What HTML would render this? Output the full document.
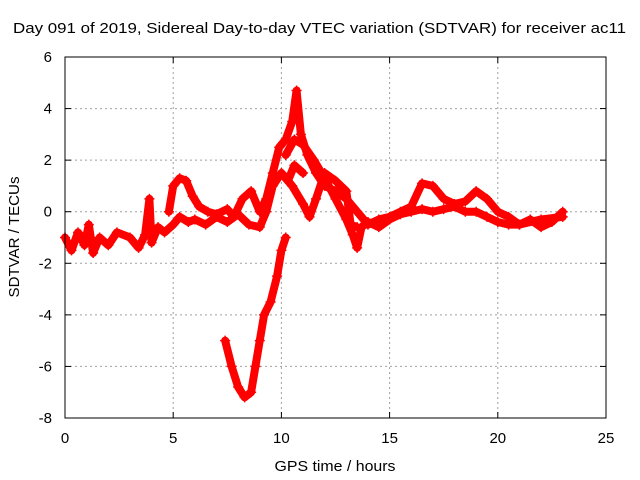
<!DOCTYPE html>
<html><head><meta charset="utf-8"><style>
body{margin:0;background:#fff;}
svg{display:block;font-family:"Liberation Sans",sans-serif;font-size:15px;}
</style></head><body>
<svg id="chart" width="640" height="480">
<rect width="640" height="480" fill="#fff"/>
<g id="grid"></g>
<g id="series"></g>
<rect x="65" y="57" width="541" height="361" fill="none" stroke="#000"/>
<g id="axes"></g>
<text x="13" y="33" textLength="613" lengthAdjust="spacingAndGlyphs">Day 091 of 2019, Sidereal Day-to-day VTEC variation (SDTVAR) for receiver ac11</text>
<text x="335" y="471" text-anchor="middle" textLength="121" lengthAdjust="spacingAndGlyphs">GPS time / hours</text>
<text transform="translate(19,237) rotate(-90)" text-anchor="middle" textLength="121" lengthAdjust="spacingAndGlyphs">SDTVAR / TECUs</text>
</svg>
<script>
const xTicks=[0,5,10,15,20,25];
const yTicks=[-8,-6,-4,-2,0,2,4,6];
const trackA=[[0,-1],[0.3,-1.5],[0.6,-0.8],[0.9,-1.3],[1.1,-0.5],[1.3,-1.6],[1.6,-1.0],[2,-1.3],[2.4,-0.8],[3,-1.0],[3.4,-1.4],[3.7,-0.9],[3.9,0.5],[4,-1.2],[4.3,-0.6],[4.6,-0.8],[5,-0.5],[5.3,-0.2],[5.7,-0.4],[6,-0.3],[6.5,-0.5],[7,-0.2],[7.5,-0.4],[8,-0.1],[8.5,-0.5],[9,-0.6],[9.3,0.0],[9.6,1],[10,1.5],[10.3,1.2],[10.6,1.8],[11,1.5]];
const trackB=[[4.8,0],[5,1.0],[5.3,1.3],[5.6,1.2],[5.9,0.6],[6.2,0.2],[6.6,0.0],[7,-0.1],[7.5,0.1],[7.8,-0.2],[8.2,0.5],[8.6,0.8],[9,0.0],[9.3,0.5],[9.6,1.5],[9.9,2.5],[10.2,2.8],[10.5,3.5],[10.7,4.7],[10.9,3],[11.2,2.2],[11.6,1.5],[12,1.0],[12.5,0.8],[13,0.5],[13.5,0],[14,-0.5],[14.5,-0.3],[15,-0.2],[15.5,0],[16,0.2],[16.5,1.1],[17,1.0],[17.5,0.5],[18,0.3],[18.5,0.4],[19,0.8],[19.5,0.5],[20,0],[20.5,-0.2],[21,-0.5],[21.5,-0.3],[22,-0.6],[22.5,-0.4],[23,0]];
const trackC=[[7.4,-5],[7.7,-6],[8,-6.8],[8.3,-7.2],[8.6,-7],[8.8,-6],[9,-5],[9.2,-4],[9.5,-3.5],[9.8,-2.5],[10,-1.5],[10.2,-1]];
const trackD=[[10.2,2.2],[10.6,2.8],[11,2.6],[11.5,2.0],[12,1.3],[12.5,0.5],[13,-0.3],[13.3,-0.9],[13.5,-1.4],[13.7,-0.6],[14,-0.4],[14.5,-0.6],[15,-0.3],[15.5,-0.1],[16,0],[16.5,0.1],[17,0],[17.5,0.1],[18,0.2],[18.5,0],[19,0],[19.5,-0.2],[20,-0.4],[20.5,-0.5],[21,-0.5],[22,-0.3],[23,-0.2]];
const trackE=[[10,1.5],[10.5,1.0],[11,0.3],[11.3,-0.2],[11.6,0.5],[12,1.5],[12.5,1.2],[13,0.8],[13.2,-0.5],[13.5,-0.6]];
const tracks=[trackA,trackB,trackC,trackD,trackE];
const X=v=>65+v*(541/25), Y=v=>418-(v+8)*(361/14);
const NS="http://www.w3.org/2000/svg";
const grid=document.getElementById('grid'),axes=document.getElementById('axes'),ser=document.getElementById('series');
function mk(tag,attrs,parent){const e=document.createElementNS(NS,tag);for(const k in attrs)e.setAttribute(k,attrs[k]);parent.appendChild(e);return e;}
xTicks.forEach(t=>{
 if(t>0&&t<25){const g=mk('line',{x1:X(t),x2:X(t),y1:57,y2:418,stroke:'#a0a0a0','stroke-dasharray':'2,3'},grid);
 
 }
 mk('line',{x1:X(t),x2:X(t),y1:418,y2:412,stroke:'#000'},axes);
 mk('line',{x1:X(t),x2:X(t),y1:57,y2:63,stroke:'#000'},axes);
 const l=mk('text',{x:X(t),y:443,'text-anchor':'middle'},axes);l.textContent=t;
 
 
});
yTicks.forEach(t=>{
 if(t>-8&&t<6){const g=mk('line',{x1:65,x2:606,y1:Y(t),y2:Y(t),stroke:'#a0a0a0','stroke-dasharray':'2,3'},grid);
 
 }
 mk('line',{x1:65,x2:71,y1:Y(t),y2:Y(t),stroke:'#000'},axes);
 mk('line',{x1:606,x2:600,y1:Y(t),y2:Y(t),stroke:'#000'},axes);
 const l=mk('text',{x:52,y:Y(t)+5,'text-anchor':'end'},axes);l.textContent=t;
 
 
});
tracks.forEach((tr,i)=>{
 const p=mk('polyline',{points:tr.map(d=>X(d[0])+','+Y(d[1])).join(' '),fill:'none',stroke:'#f00','stroke-width':8,'stroke-linejoin':'round','stroke-linecap':'round'},ser);
 
 
 tr.forEach(d=>{
  const m=mk('path',{d:`M${X(d[0])-5},${Y(d[1])}h10M${X(d[0])},${Y(d[1])-5}v10`,stroke:'#f00','stroke-width':1.5},ser);
  
  
 });
});
</script>
</body></html>
